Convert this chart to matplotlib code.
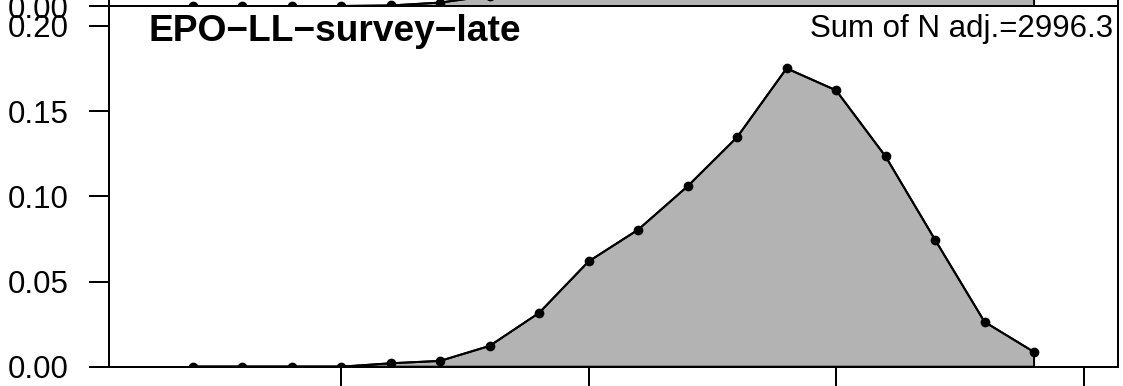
import matplotlib
matplotlib.use("Agg")
import matplotlib.pyplot as plt
import numpy as np

# ---- data ----
length_bins = [20, 30, 40, 50, 60, 70, 80, 90, 100, 110, 120, 130, 140, 150, 160, 170, 180, 190]
obs_late = [0.0, 0.0, 0.0, 0.0, 0.002, 0.0034, 0.0122, 0.0316, 0.0618, 0.0804,
            0.1059, 0.1347, 0.1751, 0.1622, 0.1234, 0.0745, 0.0263, 0.0086]
# panel above (only its lowest sliver is visible)
obs_prev = [0.0, 0.0, 0.0, 0.0, 0.0003, 0.002, 0.006, 0.03, 0.06, 0.09,
            0.11, 0.13, 0.15, 0.14, 0.12, 0.08, 0.04, 0.02]
y_ticks = [0.00, 0.05, 0.10, 0.15, 0.20]
y_tick_labels = ["0.00", "0.05", "0.10", "0.15", "0.20"]
x_ticks = [50, 100, 150, 200]
panel_title = "EPO\u2212LL\u2212survey\u2212late"
sum_label = "Sum of N adj.=2996.3"

plt.rcParams['font.family'] = ['Liberation Sans', 'DejaVu Sans']

W, H = 1123, 386
fig = plt.figure(figsize=(W / 100, H / 100), dpi=100)

left_px, right_px = 109, 1117.7
bot_px, top_px = 366.7, 6.0
ax_h = (bot_px - top_px) / H
ax_l = left_px / W
ax_w = (right_px - left_px) / W

XLIM = (3.09, 206.9)
YLIM = (0.0, 0.2117)
GREY = "#b3b3b3"
LW = 1.44
FS = 22.5


def draw_panel(ax, x, y):
    xs = np.asarray(x, float)
    ys = np.asarray(y, float)
    px = np.concatenate([[xs[0]], xs, [xs[-1]]])
    py = np.concatenate([[0.0], ys, [0.0]])
    ax.fill(px, py, facecolor=GREY, edgecolor="black", linewidth=LW, zorder=2)
    ax.plot(xs, ys, color="black", linewidth=LW, marker="o", markersize=7,
            markeredgewidth=0, zorder=3)
    ax.set_xlim(*XLIM)
    ax.set_ylim(*YLIM)
    for s in ax.spines.values():
        s.set_linewidth(LW)
        s.set_zorder(5)
    ax.tick_params(axis="both", direction="out", length=14.4, width=LW,
                   labelsize=FS, pad=14.4)
    ax.set_yticks(y_ticks)
    ax.set_yticklabels(y_tick_labels)
    ax.set_xticks(x_ticks)
    ax.set_xticklabels([str(t) for t in x_ticks])


# previous panel (above, mostly outside the figure)
ax_prev = fig.add_axes([ax_l, (H - top_px) / H, ax_w, ax_h])
draw_panel(ax_prev, length_bins, obs_prev)
ax_prev.tick_params(axis="x", labelbottom=False, length=0)

# main panel
ax = fig.add_axes([ax_l, (H - bot_px) / H, ax_w, ax_h])
draw_panel(ax, length_bins, obs_late)

fig.text(148.3 / W, 1 - 40.7 / H, panel_title, fontsize=FS * 1.19,
         fontweight="bold", ha="left", va="baseline")
fig.text(1113 / W, 1 - 36.7 / H, sum_label, fontsize=FS,
         ha="right", va="baseline")

fig.savefig("out.png", dpi=100)
